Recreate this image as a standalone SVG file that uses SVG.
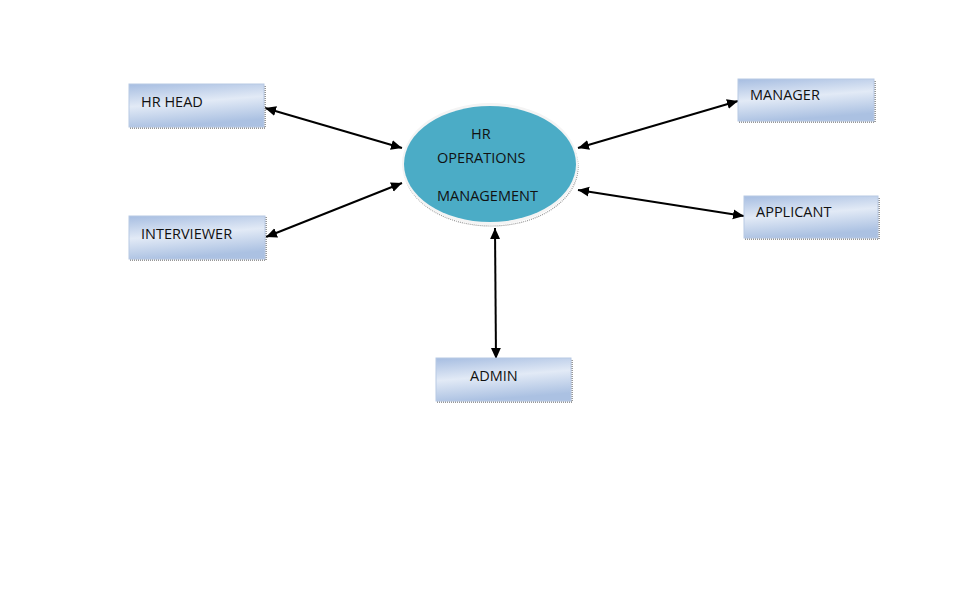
<svg xmlns="http://www.w3.org/2000/svg" width="977" height="616" viewBox="0 0 977 616">
<defs>
<linearGradient id="boxg" x1="0" y1="0" x2="0.25" y2="1">
<stop offset="0" stop-color="#a6bde1"/>
<stop offset="0.5" stop-color="#e2eaf6"/>
<stop offset="1" stop-color="#abc1e2"/>
</linearGradient>
<marker id="ah" viewBox="0 0 10 10" refX="10" refY="5" markerWidth="11" markerHeight="11" markerUnits="userSpaceOnUse" orient="auto-start-reverse">
<path d="M0,0.5 L10,5 L0,9.5 z" fill="#000"/>
</marker>
</defs>
<style>
.box{fill:url(#boxg);stroke:#b8c9e4;stroke-width:1}
.shadow{fill:none;stroke:#777;stroke-width:1.5;stroke-dasharray:1 1}
.lbl{font-family:"Open Sans","Liberation Sans",sans-serif;font-size:14.5px;fill:#111}
.conn{stroke:#000;stroke-width:2;fill:none;marker-start:url(#ah);marker-end:url(#ah)}
</style>
<rect width="977" height="616" fill="#fff"/>
<g id="connectors">
<line class="conn" x1="265" y1="108" x2="402" y2="148"/>
<line class="conn" x1="266" y1="237" x2="402" y2="183"/>
<line class="conn" x1="738" y1="101" x2="578" y2="148"/>
<line class="conn" x1="744" y1="216" x2="578" y2="190"/>
<line class="conn" x1="495" y1="228" x2="496" y2="359"/>
</g>
<g id="center">
<ellipse cx="491" cy="167" rx="87" ry="59" fill="none" stroke="#999" stroke-width="1.2" stroke-dasharray="1 1"/>
<ellipse cx="490" cy="164" rx="88" ry="61" fill="#f4f4f4"/>
<ellipse cx="490" cy="164" rx="86" ry="58" fill="#4bacc6"/>
<text class="lbl" x="471" y="139">HR</text>
<text class="lbl" x="437" y="163">OPERATIONS</text>
<text class="lbl" x="437" y="201">MANAGEMENT</text>
</g>
<g id="hrhead">
<path class="shadow" d="M130,128 H265 V85"/>
<rect class="box" x="129" y="84" width="135" height="43"/>
<text class="lbl" x="141" y="107">HR HEAD</text>
</g>
<g id="interviewer">
<path class="shadow" d="M130,260 H266 V217"/>
<rect class="box" x="129" y="216" width="136" height="43"/>
<text class="lbl" x="141" y="239">INTERVIEWER</text>
</g>
<g id="manager">
<path class="shadow" d="M739,122 H875 V80"/>
<rect class="box" x="738" y="79" width="136" height="42"/>
<text class="lbl" x="750" y="100">MANAGER</text>
</g>
<g id="applicant">
<path class="shadow" d="M745,239 H879 V197"/>
<rect class="box" x="744" y="196" width="134" height="42"/>
<text class="lbl" x="756" y="217">APPLICANT</text>
</g>
<g id="admin">
<path class="shadow" d="M437,402 H572 V359"/>
<rect class="box" x="436" y="358" width="135" height="43"/>
<text class="lbl" x="470" y="381">ADMIN</text>
</g>
</svg>
